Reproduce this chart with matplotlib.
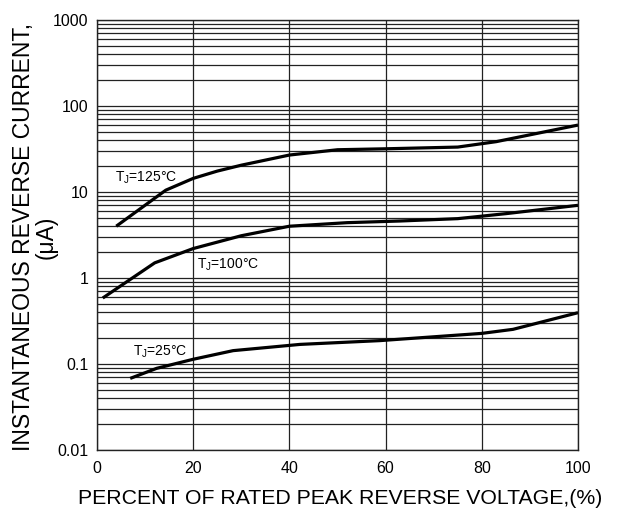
import matplotlib
matplotlib.use("Agg")
import matplotlib.pyplot as plt
from matplotlib.ticker import LogLocator, FixedLocator, NullFormatter

plt.rcParams['font.family'] = ['Liberation Sans', 'DejaVu Sans']
plt.rcParams['mathtext.fontset'] = 'custom'
plt.rcParams['mathtext.rm'] = 'Liberation Sans'
plt.rcParams['mathtext.it'] = 'Liberation Sans'

# Data
x125 = [4, 14.3, 20, 25, 30, 40, 50, 60, 75, 83, 100]
y125 = [4.0, 10.5, 14.4, 17.5, 20.5, 26.9, 31.0, 31.8, 33.3, 38.5, 60.0]

x100 = [1.2, 12, 20, 30, 40, 52, 63, 75, 85, 100]
y100 = [0.585, 1.5, 2.2, 3.1, 4.0, 4.4, 4.6, 4.9, 5.6, 7.0]

x25 = [6.9, 12.4, 20, 28.3, 42.2, 58.8, 80, 86.5, 100]
y25 = [0.068, 0.089, 0.1135, 0.143, 0.169, 0.187, 0.227, 0.253, 0.395]

xticks = [0, 20, 40, 60, 80, 100]
yticks = [0.01, 0.1, 1, 10, 100, 1000]
ytick_labels = ['0.01', '0.1', '1', '10', '100', '1000']

labels = [r'T$_\mathrm{J}$=125°C', r'T$_\mathrm{J}$=100°C', r'T$_\mathrm{J}$=25°C']

fig = plt.figure(figsize=(6.18, 5.14), dpi=100)
ax = fig.add_axes([97/618, 1-450/514, (578-97)/618, 430/514])

ax.set_yscale('log')
ax.set_xlim(0, 100)
ax.set_ylim(0.01, 1000)

for xs, ys in [(x125, y125), (x100, y100), (x25, y25)]:
    ax.plot(xs, ys, color='black', lw=2.3, solid_capstyle='butt', zorder=3)

ax.xaxis.set_major_locator(FixedLocator(xticks))
ax.yaxis.set_major_locator(FixedLocator(yticks))
ax.set_yticklabels(ytick_labels)
ax.set_xticklabels([str(v) for v in xticks])
ax.yaxis.set_minor_locator(LogLocator(base=10, subs=range(2, 10), numticks=20))
ax.yaxis.set_minor_formatter(NullFormatter())

ax.grid(True, which='major', axis='both', color='#222222', lw=0.9)
ax.grid(True, which='minor', axis='y', color='#222222', lw=0.9)
ax.tick_params(which='both', length=0, labelsize=11.5, colors='black')
ax.tick_params(axis='y', pad=6)
ax.tick_params(axis='x', pad=8)
for s in ax.spines.values():
    s.set_color('#222222')
    s.set_linewidth(1.0)

ax.text(3.7, 14.5, labels[0], fontsize=10, ha='left', va='center')
ax.text(20.8, 1.42, labels[1], fontsize=10, ha='left', va='center')
ax.text(7.5, 0.138, labels[2], fontsize=10, ha='left', va='center')

fig.text(340/618, 1-498/514, 'PERCENT OF RATED PEAK REVERSE VOLTAGE,(%)',
         fontsize=15.3, ha='center', va='center')
fig.text(35/618, 1-237/514, 'INSTANTANEOUS REVERSE CURRENT,\n(μA)',
         fontsize=16.5, ha='center', va='center', rotation=90,
         multialignment='center', linespacing=1.0)

fig.savefig('out.png', dpi=100)
